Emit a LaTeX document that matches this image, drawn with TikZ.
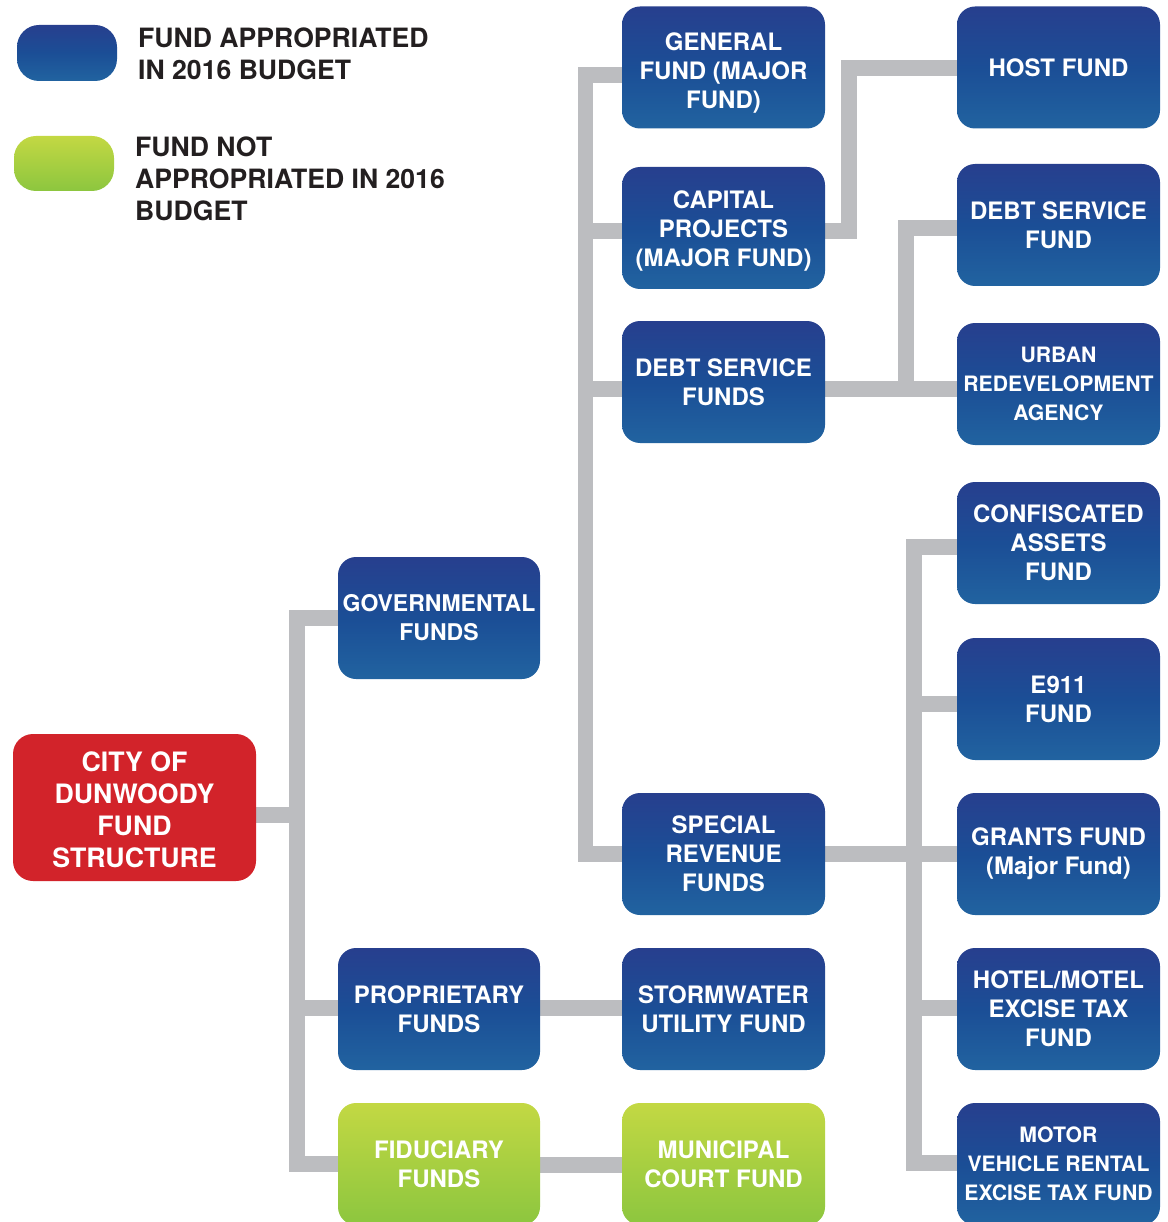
\documentclass[tikz,border=0pt]{standalone}
\usepackage{fontspec}
\setmainfont{TeX Gyre Heros}
\definecolor{btop}{HTML}{273F8E}
\definecolor{bmid}{HTML}{1B4E96}
\definecolor{bbot}{HTML}{2163A0}
\definecolor{gtop}{HTML}{C3D843}
\definecolor{gbot}{HTML}{8CC63F}
\definecolor{cityred}{HTML}{D2232A}
\definecolor{linegray}{HTML}{BCBDC0}
\definecolor{legtext}{HTML}{231F20}
\pgfdeclarelayer{background}
\pgfsetlayers{background,main}
\tikzset{
  fundbox/.style={rounded corners=18pt, minimum width=203pt, minimum height=122pt,
    inner sep=0pt, align=center, text=white, font=\fontsize{24}{29}\selectfont\bfseries},
  bluebox/.style={fundbox, top color=btop, bottom color=bbot, middle color=bmid},
  greenbox/.style={fundbox, top color=gtop, bottom color=gbot},
  conn/.style={draw=linegray, line width=15.5pt, line join=miter},
  legtxt/.style={anchor=west, align=left, text=legtext, inner sep=0pt,
    font=\fontsize{26.6}{32}\selectfont\bfseries},
}
\begin{document}
\begin{tikzpicture}[x=1pt,y=-1pt]
\useasboundingbox (0,0) rectangle (1167,1222);
% legend
\node[bluebox, rounded corners=22pt, minimum width=100pt, minimum height=56pt] (legblue) at (67,53) {};
\node[greenbox, rounded corners=22pt, minimum width=100pt, minimum height=55pt] (leggreen) at (64,163.5) {};
\node[legtxt] (legbluetxt) at (138,54) {FUND APPROPRIATED\\IN 2016 BUDGET};
\node[legtxt] (leggreentxt) at (135,179) {FUND NOT\\APPROPRIATED IN 2016\\BUDGET};
% root
\node[fundbox, fill=cityred, rounded corners=20pt, minimum width=243pt, minimum height=147pt,
  font=\fontsize{26.7}{32}\selectfont\bfseries] (city) at (134.5,807.5)
  {\raisebox{-6pt}[\height][\depth]{\begin{tabular}{@{}c@{}}CITY OF\\[0pt]DUNWOODY\\[0pt]FUND\\[0pt]STRUCTURE\end{tabular}}};
% column 1
\node[bluebox, minimum width=202pt, font=\fontsize{23}{29}\selectfont\bfseries] (gov) at (439,618) {GOVERNMENTAL\\FUNDS};
\node[bluebox, minimum width=202pt] (prop) at (439,1009) {PROPRIETARY\\FUNDS};
\node[greenbox, minimum width=202pt] (fid) at (439,1164) {FIDUCIARY\\FUNDS};
% column 2
\node[bluebox] (gen) at (723.5,67.5) {\raisebox{-6pt}[\height][\depth]{\begin{tabular}{@{}c@{}}GENERAL\\[0pt]FUND (MAJOR\\[0pt]FUND)\end{tabular}}};
\node[bluebox] (cap) at (723.5,228) {\raisebox{-4pt}[\height][\depth]{\begin{tabular}{@{}c@{}}CAPITAL\\[0pt]PROJECTS\\[0pt](MAJOR FUND)\end{tabular}}};
\node[bluebox] (dsf) at (723.5,382) {DEBT SERVICE\\FUNDS};
\node[bluebox] (spec) at (723.5,854) {SPECIAL\\REVENUE\\FUNDS};
\node[bluebox] (storm) at (723.5,1009) {STORMWATER\\UTILITY FUND};
\node[greenbox] (muni) at (723.5,1164) {MUNICIPAL\\COURT FUND};
% column 3
\node[bluebox] (host) at (1058.5,67.5) {HOST FUND};
\node[bluebox] (dsfund) at (1058.5,225) {DEBT SERVICE\\FUND};
\node[bluebox, font=\fontsize{21.2}{29}\selectfont\bfseries] (urban) at (1058.5,384) {URBAN\\REDEVELOPMENT\\AGENCY};
\node[bluebox] (conf) at (1058.5,543) {CONFISCATED\\ASSETS\\FUND};
\node[bluebox] (e911) at (1058.5,699) {E911\\FUND};
\node[bluebox] (grants) at (1058.5,854) {GRANTS FUND\\(Major Fund)};
\node[bluebox] (hotel) at (1058.5,1009) {HOTEL/MOTEL\\EXCISE TAX\\FUND};
\node[bluebox, font=\fontsize{21.2}{29}\selectfont\bfseries] (motor) at (1058.5,1164) {MOTOR\\VEHICLE RENTAL\\EXCISE TAX FUND};
% junctions
\coordinate (jA) at (297,815);
\coordinate (jB1) at (585.5,75);
\coordinate (jB2) at (585.5,231);
\coordinate (jB3) at (585.5,389);
\coordinate (jB4) at (585.5,854);
\coordinate (jC1) at (849,231);
\coordinate (jC2) at (849,68);
\coordinate (jD1) at (906,389);
\coordinate (jD2) at (906,228);
\coordinate (jE1) at (914,547);
\coordinate (jE2) at (914,704);
\coordinate (jE3) at (914,854);
\coordinate (jE4) at (914,1008);
\coordinate (jE5) at (914,1163);
\coordinate (jF) at (0,1008);
\coordinate (jG) at (0,1165);
\begin{pgfonlayer}{background}
\draw[conn] (gov.west) -| (jA) |- (fid.west);
\draw[conn] (city.east |- jA) -- (jA);
\draw[conn] (prop.west |- jF) -- (jA |- jF);
\draw[conn] (gen.west |- jB1) -- (jB1) -- (jB4) -- (spec.west |- jB4);
\draw[conn] (cap.west |- jB2) -- (jB2);
\draw[conn] (dsf.west |- jB3) -- (jB3);
\draw[conn] (cap.east |- jC1) -- (jC1) -- (jC2) -- (host.west |- jC2);
\draw[conn] (dsf.east |- jD1) -- (urban.west |- jD1);
\draw[conn] (jD1) -- (jD2) -- (dsfund.west |- jD2);
\draw[conn] (conf.west |- jE1) -- (jE1) -- (jE5) -- (motor.west |- jE5);
\draw[conn] (spec.east |- jE3) -- (grants.west |- jE3);
\draw[conn] (e911.west |- jE2) -- (jE2);
\draw[conn] (hotel.west |- jE4) -- (jE4);
\draw[conn] (prop.east |- jF) -- (storm.west |- jF);
\draw[conn] (fid.east |- jG) -- (muni.west |- jG);
\end{pgfonlayer}
\end{tikzpicture}
\end{document}
